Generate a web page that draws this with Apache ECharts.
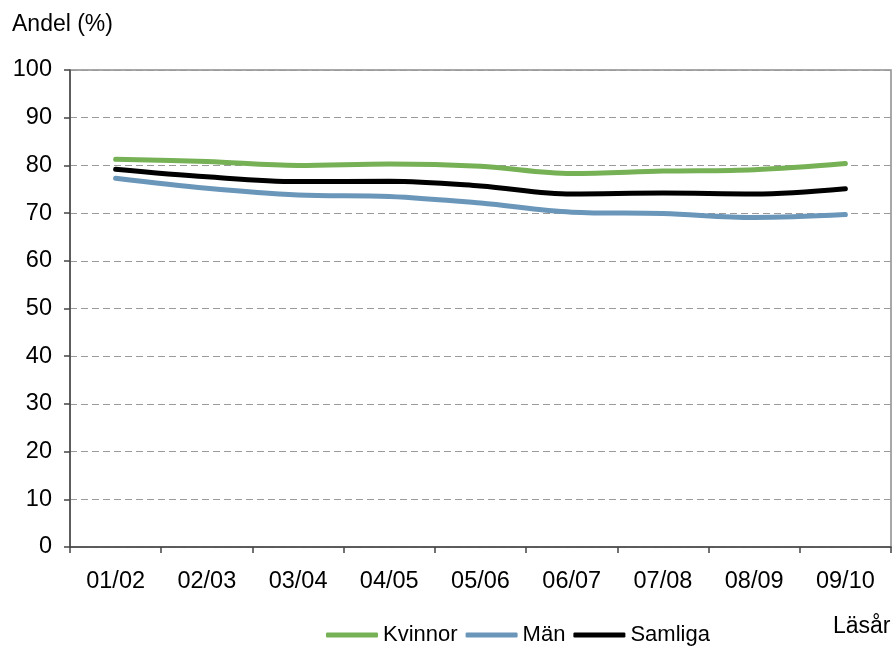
<!DOCTYPE html>
<html>
<head>
<meta charset="utf-8">
<script src="https://cdn.jsdelivr.net/npm/echarts@6/dist/echarts.min.js"></script>
<style>
html,body{margin:0;padding:0;background:#fff;}
#chart{width:896px;height:646px;}
</style>
</head>
<body>
<div id="chart"></div>
<script>
var categories = ['01/02','02/03','03/04','04/05','05/06','06/07','07/08','08/09','09/10'];
var kvinnor = [81.3, 80.8, 80.0, 80.3, 79.8, 78.3, 78.8, 79.1, 80.4];
var man = [77.3, 75.2, 73.8, 73.5, 72.1, 70.2, 69.9, 69.1, 69.7];
var samliga = [79.2, 77.6, 76.6, 76.7, 75.7, 74.0, 74.2, 74.0, 75.1];
var yTicks = {min: 0, max: 100, interval: 10};

var font = '"Liberation Sans", Arial, sans-serif';
var chart = echarts.init(document.getElementById('chart'), null, {renderer: 'canvas'});
var option = {
  animation: false,
  backgroundColor: '#fff',
  grid: {left: 70, right: 5, top: 70, bottom: 99, show: true, borderColor: '#8c8c8c', borderWidth: 1.5, backgroundColor: 'transparent'},
  legend: {
    left: 326, top: 624, padding: 0,
    icon: 'roundRect', itemWidth: 52, itemHeight: 5, itemGap: 8,
    textStyle: {fontFamily: font, fontSize: 22, color: '#000'},
    data: ['Kvinnor','Män','Samliga']
  },
  graphic: [
    {type: 'text', left: 12, top: 13, style: {text: 'Andel (%)', font: '23px ' + font, fill: '#000'}},
    {type: 'text', left: 833, top: 615, style: {text: 'Läsår', font: '23px ' + font, fill: '#000'}}
  ],
  xAxis: {
    type: 'category', data: categories, boundaryGap: true,
    axisLine: {lineStyle: {color: '#444', width: 1.5}},
    axisTick: {show: true, length: 6, inside: false, lineStyle: {color: '#444', width: 1.5}},
    axisLabel: {fontFamily: font, fontSize: 23.5, color: '#000', margin: 23},
    splitLine: {show: false}
  },
  yAxis: {
    type: 'value', min: yTicks.min, max: yTicks.max, interval: yTicks.interval,
    axisLine: {show: true, lineStyle: {color: '#444', width: 1.5}},
    axisTick: {show: true, length: 6, lineStyle: {color: '#444', width: 1.5}},
    axisLabel: {fontFamily: font, fontSize: 23.5, color: '#000', margin: 18},
    splitLine: {show: true, lineStyle: {type: [7, 4], color: '#9a9a9a', width: 1}}
  },
  series: [
    {name: 'Kvinnor', type: 'line', data: kvinnor, smooth: 0.35, showSymbol: false, symbol: 'none',
     lineStyle: {color: '#76b155', width: 5, cap: 'round'}, itemStyle: {color: '#76b155'}},
    {name: 'Män', type: 'line', data: man, smooth: 0.35, showSymbol: false, symbol: 'none',
     lineStyle: {color: '#6a96ba', width: 5, cap: 'round'}, itemStyle: {color: '#6a96ba'}},
    {name: 'Samliga', type: 'line', data: samliga, smooth: 0.35, showSymbol: false, symbol: 'none',
     lineStyle: {color: '#000000', width: 5, cap: 'round'}, itemStyle: {color: '#000000'}}
  ]
};
chart.setOption(option);
</script>
</body>
</html>
